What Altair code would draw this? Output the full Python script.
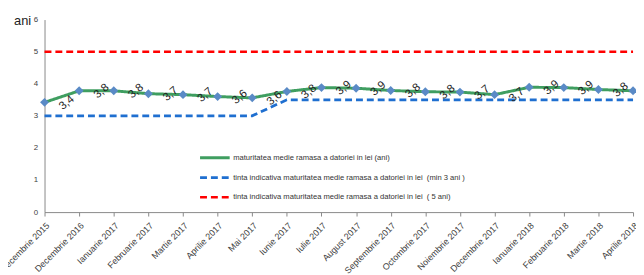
import altair as alt
import pandas as pd

months = ["Decembrie 2015", "Decembrie 2016", "Ianuarie 2017", "Februarie 2017",
          "Martie 2017", "Aprilie 2017", "Mai 2017", "Iunie 2017", "Iulie 2017",
          "August 2017", "Septembrie 2017", "Octombrie 2017", "Noiembrie 2017",
          "Decembrie 2017", "Ianuarie 2018", "Februarie 2018", "Martie 2018",
          "Aprilie 2018"]
maturity = [3.42, 3.78, 3.78, 3.69, 3.66, 3.60, 3.56, 3.76, 3.88, 3.86, 3.79,
            3.75, 3.74, 3.66, 3.89, 3.88, 3.82, 3.78]
min_target = [3, 3, 3, 3, 3, 3, 3, 3.5, 3.5, 3.5, 3.5, 3.5, 3.5, 3.5, 3.5, 3.5, 3.5, 3.5]
max_target = [5] * 18

s_mat = "maturitatea medie ramasa a datoriei in lei (ani)"
s_min = "tinta indicativa maturitatea medie ramasa a datoriei in lei \u00a0(min 3 ani )"
s_max = "tinta indicativa maturitatea medie ramasa a datoriei in lei \u00a0( 5 ani)"
series = [s_mat, s_min, s_max]
colors = ["#3f9e60", "#1f6fd0", "#ff0000"]
dashes = [[1, 0], [7, 4], [7, 4]]
widths = [3, 2.5, 2.5]

rows = []
for name, vals in zip(series, [maturity, min_target, max_target]):
    for m, v in zip(months, vals):
        rows.append({"series": name, "month": m, "value": v,
                     "label": f"{v:.1f}".replace(".", ",")})
df = pd.DataFrame(rows)

FONT = "Liberation Sans"

x = alt.X("month:N", sort=months,
          scale=alt.Scale(type="point", padding=0),
          axis=alt.Axis(title=None, labelAngle=315, labelFontSize=9,
                        labelFont=FONT, labelColor="#404040", tickSize=4,
                        tickColor="#888888", domainColor="#888888",
                        labelPadding=5, grid=False))
y = alt.Y("value:Q", scale=alt.Scale(domain=[0, 6], nice=False, zero=True),
          axis=alt.Axis(values=[0, 1, 2, 3, 4, 5, 6], grid=False, ticks=False,
                        labelFontSize=8, labelFont=FONT, labelColor="#404040",
                        labelPadding=7, domainColor="#888888",
                        title="ani", titleAngle=0, titleAlign="right",
                        titleBaseline="alphabetic", titleX=-14, titleY=5,
                        titleFontSize=13, titleFontWeight="normal",
                        titleFont=FONT, titleColor="#222222"))

legend = alt.Legend(title=None, orient="none", legendX=156, legendY=131,
                    symbolType="stroke", symbolSize=900, symbolStrokeWidth=2.5,
                    labelFontSize=7.7, labelFont=FONT, labelColor="#333333",
                    labelOffset=2, rowPadding=2, clipHeight=18, labelLimit=0)

lines = alt.Chart(df).mark_line().encode(
    x=x, y=y,
    color=alt.Color("series:N", scale=alt.Scale(domain=series, range=colors),
                    sort=series, legend=legend),
    strokeDash=alt.StrokeDash("series:N", scale=alt.Scale(domain=series, range=dashes),
                              sort=series, legend=legend),
    strokeWidth=alt.StrokeWidth("series:N", scale=alt.Scale(domain=series, range=widths),
                                legend=None),
)

mat = df[df["series"] == s_mat]

points = alt.Chart(mat).mark_point(shape="diamond", filled=True, size=81,
                                   color="#5a8ac6", opacity=1).encode(x=x, y=y)

texts = alt.Chart(mat).mark_text(angle=320, dx=17, dy=15, fontSize=11.5, font=FONT,
                                 color="#222222", align="center",
                                 baseline="middle").encode(x=x, y=y, text="label:N")

chart = alt.layer(lines, points, texts).properties(
    width=596, height=195,
    autosize=alt.AutoSizeParams(type="none"),
    padding={"left": 37, "top": 10, "right": 3, "bottom": 62},
).configure_view(stroke=None)

chart.save("out.html", embed_options={"renderer": "svg", "actions": False})
